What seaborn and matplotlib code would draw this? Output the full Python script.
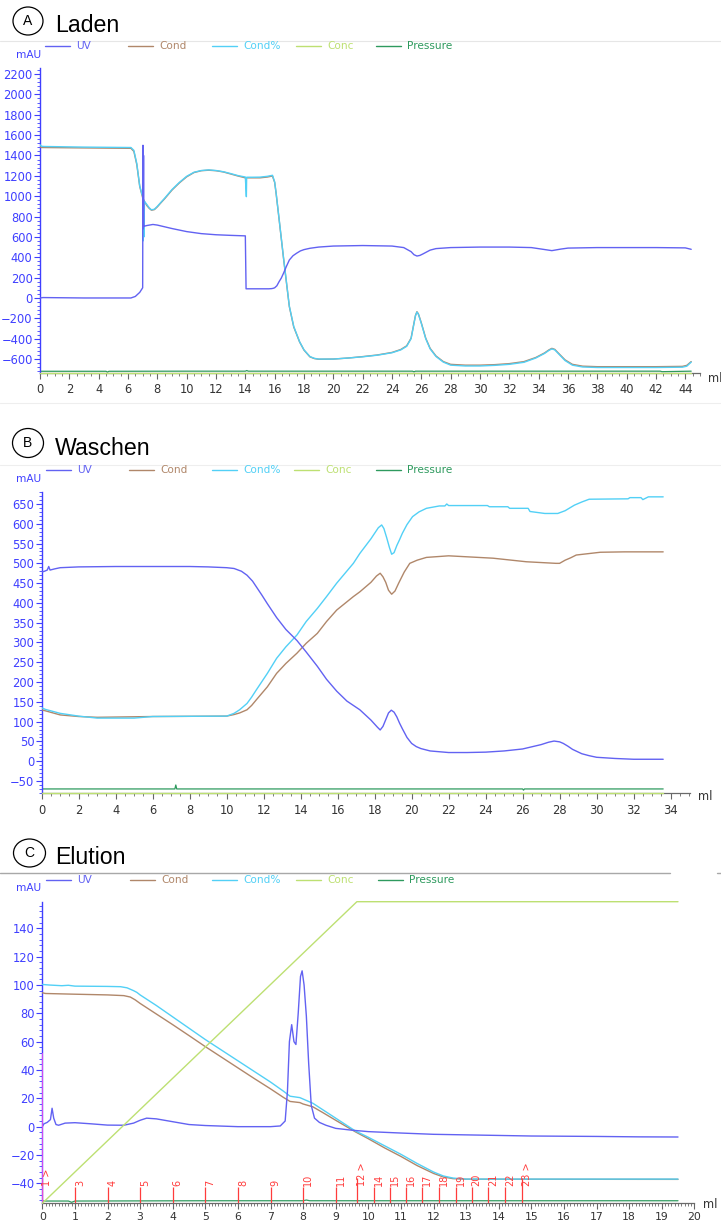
import numpy as np
import matplotlib
matplotlib.use("Agg")
import matplotlib.pyplot as plt
from matplotlib.lines import Line2D
from matplotlib.patches import Ellipse
from matplotlib.ticker import MultipleLocator
import seaborn as sns

# ---------------------------------------------------------------- data
SERIES = ["UV", "Cond", "Cond%", "Conc", "Pressure"]

# A  Laden (sample loading)
a_uv_x = [0, 0.2, 3, 6.2, 6.5, 6.8, 7.0, 7.02, 7.04, 7.06, 7.08, 7.1, 7.3, 7.7, 8, 9, 10, 11, 12, 13,
          14.0, 14.05, 15.6, 15.8, 15.9, 16.0, 16.15, 16.3, 16.45, 16.6, 16.8, 17.0, 17.25, 17.5,
          17.75, 18.0, 18.4, 19, 20, 22, 24, 24.8, 25.3, 25.5, 25.7, 25.9,
          26.1, 26.6, 27, 28, 30, 32, 33.5, 34.3, 34.9, 35.5, 36, 38, 40, 42, 44, 44.4]
a_uv_y = [0, 4, 0, 0, 15, 55, 100, 1500, 680, 1400, 700, 705, 712, 722, 716, 682, 652, 632, 621, 615,
          610, 90, 90, 92, 95, 100, 120, 160, 195, 242, 310, 373, 415, 440,
          462, 475, 488, 500, 510, 515, 510, 495, 455, 425, 412, 418,
          432, 470, 485, 495, 500, 500, 495, 478, 465, 480, 490, 495, 495, 495, 492, 478]

a_condp_x = [0, 0.1, 0.3, 3, 6.2, 6.4, 6.6, 6.8, 6.95, 7.0,
             7.03, 7.06, 7.09, 7.12, 7.3, 7.45, 7.6, 7.8, 8, 8.2, 8.5, 9, 9.5,
             10, 10.5, 11, 11.5, 12, 12.5, 13, 13.5, 14.0, 14.07,
             14.09, 14.5, 15, 15.5, 15.85, 16.0, 16.1, 16.3, 16.6, 16.8,
             17.0, 17.3, 17.7, 18.0, 18.4, 18.7, 19, 20, 21, 22, 23,
             24, 24.6, 25.0, 25.3, 25.5, 25.6, 25.7, 25.8, 25.9, 26.0, 26.3, 26.6, 27,
             27.5, 28, 29, 30, 31, 32, 33, 33.8, 34.4, 34.7, 34.9, 35.1,
             35.3, 35.8, 36.3, 37, 38, 40, 42, 43.8, 44.1, 44.4]
a_condp_y = [1505, 1490, 1488, 1482, 1478, 1450, 1320, 1100, 1020, 1000,
             560, 960, 600, 950, 915, 885, 866, 872, 900, 932, 980, 1065, 1135,
             1195, 1235, 1252, 1258, 1252, 1240, 1222, 1202, 1188, 995,
             1186, 1186, 1187, 1195, 1205, 1140, 1030, 780, 400, 160,
             -80, -280, -430, -510, -575, -593, -600, -600, -590, -578, -562,
             -538, -510, -475, -400, -250, -175, -138, -160, -205, -250, -400, -500, -575,
             -630, -660, -668, -668, -662, -652, -632, -590, -545, -515, -500, -510,
             -540, -615, -660, -678, -683, -683, -683, -680, -670, -630]

a_cond_x = [0, 0.1, 3, 6.2, 6.4, 6.6, 6.8, 7.0, 7.15, 7.3, 7.45,
            7.6, 7.8, 8, 8.2, 8.5, 9, 9.5, 10, 10.5, 11, 11.5, 12,
            12.5, 13, 13.5, 14, 15, 15.5, 15.85, 16.0, 16.1, 16.3,
            16.6, 16.8, 17.0, 17.3, 17.7, 18.0, 18.4, 18.7, 19, 20, 21,
            22, 23, 24, 24.6, 25.0, 25.3, 25.5, 25.6, 25.7, 25.8, 25.9, 26.0, 26.3,
            26.6, 27, 27.5, 28, 29, 30, 31, 32, 33, 33.8,
            34.4, 34.7, 34.9, 35.1, 35.3, 35.8, 36.3, 37, 38, 40, 42, 43.8,
            44.1, 44.4]
a_cond_y = [1485, 1478, 1474, 1470, 1440, 1310, 1095, 985, 940, 905, 880,
            862, 868, 895, 928, 975, 1060, 1130, 1190, 1232, 1250, 1255, 1250,
            1238, 1218, 1198, 1180, 1180, 1188, 1198, 1135, 1025, 775,
            395, 155, -85, -285, -432, -512, -578, -595, -602, -600, -590,
            -576, -560, -535, -506, -470, -395, -245, -172, -135, -157, -200, -245, -395,
            -495, -570, -625, -652, -660, -660, -655, -645, -625, -585,
            -540, -510, -495, -505, -535, -608, -652, -670, -675, -675, -675, -672,
            -662, -625]

a_conc_x = [0, 44.4]
a_conc_y = [0, 0]

a_press_x = [0, 4.5, 4.6, 4.7, 10, 14.0, 14.1, 14.2, 20, 25.4, 25.5, 25.6, 35, 42.3, 42.4, 44.4]
a_press_y = [-720, -720, -728, -720, -719, -719, -713, -719, -719, -719, -725, -719, -719, -719, -724, -719]

# B  Waschen (wash)
b_uv_x = [0, 0.15, 0.3, 0.38, 0.45, 0.7, 1, 2, 4, 6,
          8, 9, 10, 10.4, 10.8, 11.1, 11.4, 11.6, 11.9, 12.2, 12.7, 13.2, 13.8,
          14.3, 14.9, 15.4, 15.95, 16.5, 17.2, 17.8, 18.15, 18.3, 18.45, 18.6, 18.75, 18.9,
          19.05, 19.2, 19.35, 19.5, 19.75, 20, 20.25, 20.5, 21, 22, 23, 24, 25, 26,
          27, 27.4, 27.7, 28.0, 28.2, 28.45, 28.7, 29.2, 29.6, 30, 31, 32, 33, 33.6]
b_uv_y = [478, 480, 483, 492, 483, 486, 489, 491, 492, 492,
          492, 491, 489, 487, 480, 470, 455, 441, 420, 398, 363, 333, 305,
          276, 240, 207, 177, 152, 130, 104, 86, 79, 88, 105, 122, 129,
          124, 112, 96, 82, 60, 45, 37, 32, 26, 22, 22, 23, 26, 31,
          42, 48, 51, 49, 45, 38, 30, 19, 14, 10, 7, 5, 5, 5]

b_cond_x = [0, 1, 2, 3, 6, 10, 10.4, 10.7, 11.1, 11.35, 11.6, 12.2,
            12.7, 13.2, 13.8, 14.3, 14.9, 15.4, 15.95, 16.85, 17.2, 17.8,
            18.1, 18.3, 18.45, 18.6, 18.75, 18.92, 19.1, 19.3, 19.6, 19.9, 20.3, 20.8, 22, 24.4,
            26.2, 27.8, 28.0, 28.3, 28.6, 28.9, 30.2, 31.5, 33.6]
b_cond_y = [130, 117, 113, 111, 113, 114, 118, 122, 130, 141, 155, 188,
            222, 247, 273, 298, 323, 353, 382, 416, 428, 452,
            468, 475, 466, 452, 432, 422, 430, 450, 478, 500, 508, 515, 519, 513,
            504, 500, 500, 508, 514, 521, 528, 529, 529]

b_condp_x = [0, 0.2, 1, 2, 3, 5, 6, 10, 10.4, 10.7, 11.1, 11.35,
             11.6, 12.2, 12.7, 13.2, 13.8, 14.3, 14.9, 15.4, 15.95, 16.85,
             17.2, 17.8, 18.2, 18.38, 18.5, 18.65, 18.8, 18.92, 19.05, 19.2, 19.35, 19.5, 19.75,
             20.05, 20.4, 20.8, 21.5,
             21.8, 21.9, 22.0, 24.1, 24.2, 25.2, 25.3, 26.3, 26.4, 27.2,
             27.9, 28.3, 28.8, 29.2, 29.6, 31.7, 31.8, 32.4, 32.5, 32.8, 33.6]
b_condp_y = [135, 131, 121, 114, 109, 109, 113, 114, 121, 130, 146, 162,
             180, 222, 260, 289, 319, 353, 386, 416, 450, 500,
             525, 562, 590, 597, 588, 565, 540, 523, 527, 545, 560, 576, 598,
             618, 630, 639, 645,
             645, 650, 646, 646, 643, 643, 639, 639, 631, 626,
             626, 633, 647, 655, 662, 663, 666, 666, 661, 668, 668]

b_conc_x = [0, 33.6]
b_conc_y = [0, 0]

b_press_x = [0, 7.2, 7.25, 7.3, 15, 26, 26.05, 26.1, 33.6]
b_press_y = [-70, -70, -60, -70, -70, -70, -73, -70, -70]

# C  Elution
c_uv_x = [0, 0.05, 0.15, 0.25, 0.3, 0.35, 0.42, 0.5, 0.7, 1.0,
          1.5, 2.0, 2.5, 2.8, 3.0, 3.2, 3.5, 4.0, 4.5, 5.0,
          6.0, 7.0, 7.3, 7.45, 7.52, 7.58, 7.65, 7.72, 7.78, 7.85,
          7.92, 7.97, 8.03, 8.1, 8.17, 8.25, 8.35, 8.5, 8.7, 9.0,
          9.5, 10, 11, 12, 13, 15, 17, 18.3, 19.5]
c_uv_y = [0, 2, 3, 5, 13, 6, 1.5, 1, 2.5, 2.8,
          2, 1.1, 1, 2.5, 4.5, 6, 5.5, 3.5, 1.5, 0.8,
          0, 0, 0.5, 4, 25, 60, 72, 60, 58, 80,
          106, 110, 100, 78, 45, 15, 6, 3, 1, -1.2,
          -2.5, -3.5, -4.5, -5.4, -5.8, -6.6, -6.9, -7.2, -7.3]

c_cond_x = [0, 0.1, 1, 2, 2.5, 2.7, 2.85, 3.0, 3.5, 4, 4.5,
            5, 5.5, 6, 6.5, 7, 7.4, 7.6, 7.9, 8.0, 8.3,
            8.6, 9.0, 9.6, 10, 10.5, 11, 11.5, 12, 12.3, 12.6,
            13, 19.5]
c_cond_y = [94.5, 94, 93.5, 93, 92.5, 91.5, 89.5, 87, 79.5, 72, 64.3,
            56.5, 49, 41.5, 34, 26.7, 20.6, 17.8, 17, 16, 14,
            10, 4.5, -3.6, -8.5, -15, -21, -27.5, -33, -35.5, -36.7,
            -37.1, -37.2]

c_condp_x = [0, 0.2, 0.6, 0.8, 1, 2, 2.4, 2.6, 2.8, 2.9, 3.0,
             3.5, 4, 4.5, 5, 5.5, 6, 6.5, 7, 7.4, 7.6,
             7.9, 8.0, 8.3, 8.6, 9.0, 9.6, 10, 10.5, 11, 11.5,
             12, 12.3, 12.6, 13, 19.5]
c_condp_y = [100.4, 100, 99.5, 99.8, 99.2, 99, 98.8, 98, 96, 94.8, 93,
             85.5, 77.5, 69.5, 61.5, 54, 46.5, 39, 31.5, 25, 21.5,
             20.5, 19.5, 16.5, 12, 6, -3, -7.5, -13.5, -19.5, -26,
             -32, -34.8, -36.3, -37, -37]

c_conc_x = [0, 9.65, 19.5]   # %B gradient
c_conc_y = [0, 100, 100]

c_press_x = [0, 0.8, 0.9, 1.0, 5, 8, 8.1, 8.2, 12, 15, 19.5]
c_press_y = [-52.5, -52.5, -53.4, -52.5, -52.3, -52.3, -51.8, -52.3, -52.3, -52.3, -52.3]

frac_x = [0, 1.0, 2.0, 3.0, 4.0, 5.0, 6.0, 7.0, 8.0, 9.0, 9.65,
          10.18, 10.67, 11.17, 11.66, 12.18, 12.68, 13.17, 13.68, 14.2, 14.7]
frac_labels = ["1 >", "3", "4", "5", "6", "7", "8", "9", "10", "11", "12 >",
               "14", "15", "16", "17", "18", "19", "20", "21", "22", "23 >"]
inject_x = 0.0
inject_top = 52

# ---------------------------------------------------------------- style
sns.set_theme(style="white")
plt.rcParams["font.family"] = ["DejaVu Sans"]

W, H = 721, 1224
UV_C = "#6262F2"
COND_C = "#B0876A"
CONDP_C = "#52D0F6"
CONC_C = "#BDE072"
PRESS_C = "#2E9A5E"
SERIES_COLORS = [UV_C, COND_C, CONDP_C, CONC_C, PRESS_C]
AXIS_BLUE = "#3F3FFF"
FRAC_C = "#FF3C3C"
INJ_C = "#E04CF0"
TITLE_FONT = "Liberation Sans"

fig = plt.figure(figsize=(W / 100, H / 100), dpi=100)


def fig_box(left, top, right, bottom):
    return [left / W, 1 - bottom / H, (right - left) / W, (bottom - top) / H]


def fy(y):
    return 1 - y / H


def hline(y, x0=0, x1=W, color="#e8e8e8", lw=0.8):
    fig.add_artist(Line2D([x0 / W, x1 / W], [fy(y), fy(y)], transform=fig.transFigure,
                          color=color, lw=lw))


def header(letter, title, cx, cy, cw, ch, baseline):
    fig.add_artist(Ellipse((cx / W, fy(cy)), cw / W, ch / H, transform=fig.transFigure,
                           fc="white", ec="black", lw=0.9))
    fig.text(cx / W, fy(cy), letter, ha="center", va="center", fontsize=10,
             family=TITLE_FONT, color="black")
    fig.text(55 / W, fy(baseline), title, ha="left", va="baseline", fontsize=16.7,
             family=TITLE_FONT, color="black")


def legend_row(y, xs):
    for name, color, x0 in zip(SERIES, SERIES_COLORS, xs):
        fig.add_artist(Line2D([x0 / W, (x0 + 25) / W], [fy(y), fy(y)],
                              transform=fig.transFigure, color=color, lw=1.0))
        fig.text((x0 + 31) / W, fy(y), name, ha="left", va="center", fontsize=7.6,
                 color=color)


def trace(ax, x, y, color, lw=1.0, z=2, clip=True):
    sns.lineplot(x=np.asarray(x, float), y=np.asarray(y, float), ax=ax, color=color,
                 lw=lw, sort=False, estimator=None, legend=False, zorder=z)
    ax.lines[-1].set_clip_on(clip)


def style_axes(ax, xlim, ylim, xmaj, xmin, xmax_lab, ymaj, ymin, ylo, yhi, xsize, xpad):
    ax.set_xlim(*xlim)
    ax.set_ylim(*ylim)
    ax.set_xticks(np.arange(0, xmax_lab + 1e-9, xmaj))
    ax.set_xticklabels([f"{v:g}" for v in np.arange(0, xmax_lab + 1e-9, xmaj)])
    ax.xaxis.set_minor_locator(MultipleLocator(xmin))
    ax.set_yticks(np.arange(ylo, yhi + 1e-9, ymaj))
    ax.yaxis.set_minor_locator(MultipleLocator(ymin))
    ax.set_xlabel("")
    ax.set_ylabel("")
    ax.grid(False)
    ax.set_facecolor("none")
    for s in ("top", "right"):
        ax.spines[s].set_visible(False)
    ax.spines["left"].set_color(AXIS_BLUE)
    ax.spines["left"].set_linewidth(1.0)
    ax.spines["bottom"].set_color("#6a6a6a")
    ax.spines["bottom"].set_linewidth(0.9)
    ax.tick_params(axis="y", which="both", left=True, direction="out", color=AXIS_BLUE)
    ax.tick_params(axis="y", which="major", length=4.3, width=0.8, labelcolor=AXIS_BLUE,
                   labelsize=8.3, pad=1)
    ax.tick_params(axis="y", which="minor", length=2.2, width=0.6)
    ax.tick_params(axis="x", which="both", bottom=True, direction="out", color="#666666")
    ax.tick_params(axis="x", which="major", length=4, width=0.8, labelcolor="#333333",
                   labelsize=xsize, pad=xpad)
    ax.tick_params(axis="x", which="minor", length=2.2, width=0.6)


def panel(box, xlim, ylim, ticks, uv, cond, condp, conc, press, mau_y, ml_xy,
          xsize=8.3, xpad=3.5):
    ax = fig.add_axes(fig_box(*box))
    ax_conc = ax.twinx()
    trace(ax, *press, PRESS_C, lw=0.9, z=2)
    trace(ax, *cond, COND_C, lw=1.0, z=3)
    trace(ax, *condp, CONDP_C, lw=1.0, z=4)
    trace(ax, *uv, UV_C, lw=1.0, z=5)
    trace(ax_conc, *conc, CONC_C, lw=1.0, z=3, clip=False)
    ax_conc.set_ylim(0, 100)
    ax_conc.set_xlim(*xlim)
    ax_conc.axis("off")
    style_axes(ax, xlim, ylim, *ticks, xsize, xpad)
    fig.text(41 / W, fy(mau_y), "mAU", ha="right", va="center", fontsize=7.6,
             color=AXIS_BLUE)
    fig.text(ml_xy[0] / W, fy(ml_xy[1]), "ml", ha="left", va="center", fontsize=8.3,
             color="#333333")
    return ax


# ---------------------------------------------------------------- panel A
header("A", "Laden", 28, 21, 30, 28, 32.3)
hline(41, color="#e6e6e6")
legend_row(46, [45, 128, 212, 296, 376])
panel((40, 68, 700, 373), (0, 45), (-737, 2259),
      (2, 0.5, 44, 200, 40, -600, 2200),
      (a_uv_x, a_uv_y), (a_cond_x, a_cond_y), (a_condp_x, a_condp_y),
      (a_conc_x, a_conc_y), (a_press_x, a_press_y), 55, (708, 378))

# ---------------------------------------------------------------- panel B
hline(403, color="#eeeeee")
header("B", "Waschen", 28, 443, 31, 29, 455)
hline(465, color="#eeeeee")
legend_row(470, [46, 129, 212, 294, 376])
panel((41.7, 491.7, 690, 793.3), (0, 35.05), (-81, 681),
      (2, 0.5, 34, 50, 10, -50, 650),
      (b_uv_x, b_uv_y), (b_cond_x, b_cond_y), (b_condp_x, b_condp_y),
      (b_conc_x, b_conc_y), (b_press_x, b_press_y), 479, (698, 796))

# ---------------------------------------------------------------- panel C
header("C", "Elution", 29.5, 853, 32, 28, 864)
hline(873, 0, 670, color="#a8a8a8", lw=1.0)
hline(873, 717, W, color="#a8a8a8", lw=1.0)
legend_row(880, [46, 130, 212, 296, 378])
axc = panel((42.3, 901.7, 694.3, 1203.3), (0, 20), (-54.1, 158.8),
            (1, 0.1, 20, 20, 4, -40, 140),
            (c_uv_x, c_uv_y), (c_cond_x, c_cond_y), (c_condp_x, c_condp_y),
            (c_conc_x, c_conc_y), (c_press_x, c_press_y), 888, (703, 1205),
            xsize=7.8, xpad=2.2)

# fraction collector marks and injection mark
ybot = axc.get_ylim()[0]
frac_tops = [-36.5 if lab.endswith(">") else -42.3 for lab in frac_labels]
axc.vlines(frac_x, ybot, frac_tops, color=FRAC_C, lw=0.9, zorder=6)
for x, lab in zip(frac_x, frac_labels):
    axc.text(x, -42.0, lab, rotation=90, ha="left", va="bottom", fontsize=7,
             color=FRAC_C, zorder=7)
axc.vlines([inject_x], ybot, [inject_top], color=INJ_C, lw=1.3, zorder=6)

fig.savefig("out.png", dpi=100)
